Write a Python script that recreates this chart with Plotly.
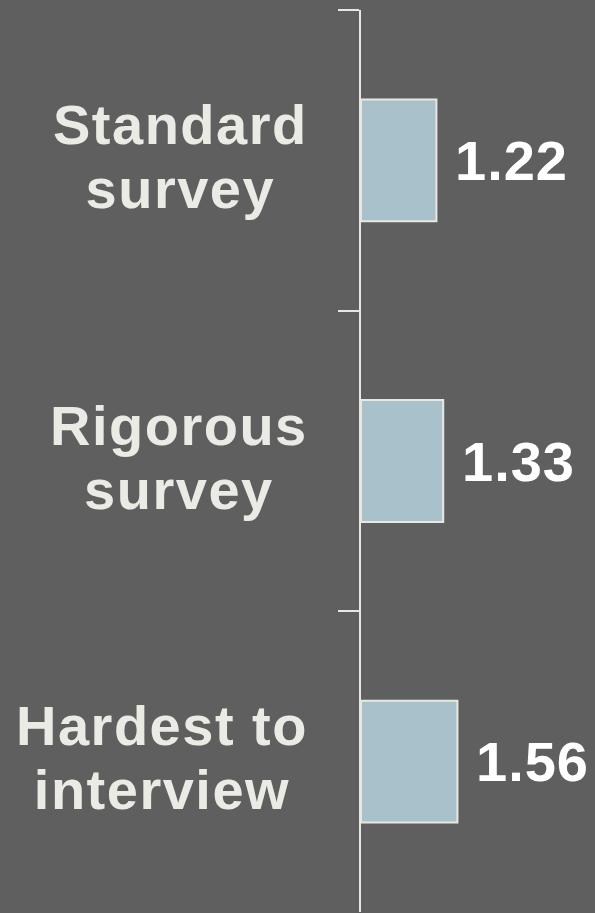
import plotly.graph_objects as go

# Data
categories = ["Standard survey", "Rigorous survey", "Hardest to interview"]
label_lines = [["Standard", "survey"], ["Rigorous", "survey"], ["Hardest to", "interview"]]
values = [1.22, 1.33, 1.56]
value_text = ["1.22", "1.33", "1.56"]

BG = "#5f5f5f"
BAR_FILL = "#a9c1ca"
LINE_COL = "#e8e8e2"
LABEL_COL = "#ebebe5"
FONT = "Liberation Sans, Arial, sans-serif"

fig = go.Figure(
    go.Bar(
        x=values,
        y=categories,
        orientation="h",
        marker=dict(color=BAR_FILL, line=dict(color=LINE_COL, width=2)),
        hoverinfo="skip",
    )
)

annotations = []
for cat, lines in zip(categories, label_lines):
    # base font sets the line spacing; spans carry the displayed size
    txt = "<br>".join(
        f"<span style='font-size:56px;letter-spacing:1.5px'>{ln}</span>" for ln in lines
    )
    annotations.append(dict(
        x=0, xref="paper", y=cat, yref="y",
        xanchor="right", yanchor="middle", xshift=-51, yshift=4,
        text=txt, align="center", showarrow=False,
        font=dict(family=FONT, size=49, color=LABEL_COL, weight="bold"),
    ))

for cat, v, t in zip(categories, values, value_text):
    annotations.append(dict(
        x=v, xref="x", y=cat, yref="y",
        xanchor="left", yanchor="middle", xshift=17,
        text=f"<span style='letter-spacing:1px'>{t}</span>", showarrow=False,
        font=dict(family=FONT, size=56, color="#ffffff", weight="bold"),
    ))

fig.update_layout(
    width=595, height=913,
    margin=dict(l=361, r=0, t=10, b=1),
    paper_bgcolor=BG, plot_bgcolor=BG,
    bargap=0.595,
    showlegend=False,
    annotations=annotations,
    xaxis=dict(range=[0, 3.785], visible=False, fixedrange=True),
    yaxis=dict(
        type="category",
        categoryorder="array", categoryarray=categories,
        autorange="reversed",
        showline=True, linecolor=LINE_COL, linewidth=2,
        ticks="outside", ticklen=21, tickwidth=2, tickcolor=LINE_COL,
        tickson="boundaries",
        showticklabels=False, showgrid=False, zeroline=False,
        fixedrange=True,
    ),
)

fig.write_html("out.html")
